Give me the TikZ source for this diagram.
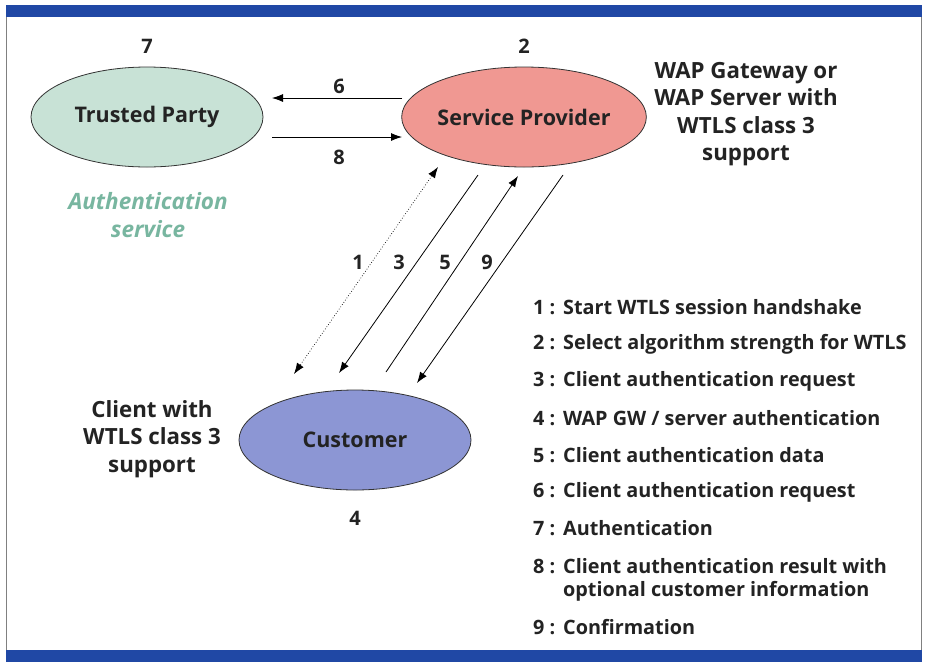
\documentclass[tikz,border=0pt]{standalone}
\usepackage{fontspec}
\setmainfont{Open Sans}
\usetikzlibrary{arrows.meta,shapes.geometric}
\definecolor{barblue}{RGB}{32,72,165}
\definecolor{txt}{RGB}{35,35,35}
\definecolor{tpfill}{RGB}{200,226,214}
\definecolor{spfill}{RGB}{240,152,146}
\definecolor{cufill}{RGB}{140,150,212}
\definecolor{authc}{RGB}{120,182,160}
\newcommand{\legnum}[1]{\makebox[30pt][l]{#1\hspace{5pt}:}}
\tikzset{
  ent/.style={ellipse,draw=black!80,line width=0.8pt,minimum width=232pt,minimum height=100pt,inner sep=0pt,font=\fontsize{21.5}{24}\selectfont\bfseries,text=txt},
  lbl/.style={font=\fontsize{20}{22}\selectfont\bfseries,text=txt,inner sep=0pt},
  side/.style={font=\fontsize{22.3}{27.5}\selectfont\bfseries,text=txt,align=center,inner sep=0pt},
  leg/.style={font=\fontsize{19.8}{25}\selectfont\bfseries,text=txt,anchor=west,inner sep=0pt},
  msg/.style={line width=0.8pt,-{Latex[length=11pt,width=8pt]}},
}
\begin{document}
\begin{tikzpicture}[x=1pt,y=-1pt]
\useasboundingbox (0,0) rectangle (928,662);
\fill[white] (0,0) rectangle (928,662);
% frame
\fill[barblue] (6,5) rectangle (922,17);
\fill[barblue] (6,650) rectangle (922,662);
\draw[black!50,line width=0.6pt] (6.5,17) -- (6.5,650) (921.5,17) -- (921.5,650);
% entities
\node[ent,fill=tpfill] (tp) at (147,117) {Trusted Party};
\node[ent,fill=spfill] (sp) at (524,117) {Service Provider};
\node[ent,fill=cufill] (cu) at (355,440) {Customer};
\node[lbl] (n7) at (147,46) {7};
\node[lbl] (n2) at (524,46) {2};
\node[lbl] (n4) at (355,518) {4};
\node[side] (spnote) at (746,114) {WAP Gateway or\\WAP Server with\\WTLS class 3\\support};
\node[side] (cunote) at (152,439) {Client with\\WTLS class 3\\support};
\node[side,text=authc,font=\fontsize{22.5}{28}\selectfont\bfseries\itshape] (auth) at (148,215) {Authentication\\service};
% horizontal message endpoints
\coordinate (a6s) at (402,98);  \coordinate (a6e) at (272,98);
\coordinate (a8s) at (272,137); \coordinate (a8e) at (402,137);
\draw[msg] (a6s) -- (a6e);
\draw[msg] (a8s) -- (a8e);
\node[lbl] (l6) at (339,86) {6};
\node[lbl] (l8) at (339,157) {8};
% diagonal message endpoints
\coordinate (m1a) at (438,167); \coordinate (m1b) at (294,374);
\coordinate (m3a) at (478,175); \coordinate (m3b) at (339,373);
\coordinate (m5a) at (386,372); \coordinate (m5b) at (518,176);
\coordinate (m9a) at (563,175); \coordinate (m9b) at (417,383);
\draw[line width=0.7pt,dotted,{Latex[length=11pt,width=8pt]}-{Latex[length=11pt,width=8pt]}] (m1a) -- (m1b);
\draw[msg] (m3a) -- (m3b);
\draw[msg] (m5a) -- (m5b);
\draw[msg] (m9a) -- (m9b);
\node[lbl] (l1) at (358,262) {1};
\node[lbl] (l3) at (399,262) {3};
\node[lbl] (l5) at (445,262) {5};
\node[lbl] (l9) at (487,262) {9};
% legend
\node[leg] (g1) at (533,307) {\legnum{1}Start WTLS session handshake};
\node[leg] (g2) at (533,344) {\legnum{2}Select algorithm strength for WTLS};
\node[leg] (g3) at (533,381) {\legnum{3}Client authentication request};
\node[leg] (g4) at (533,418) {\legnum{4}WAP GW / server authentication};
\node[leg] (g5) at (533,455) {\legnum{5}Client authentication data};
\node[leg] (g6) at (533,492) {\legnum{6}Client authentication request};
\node[leg] (g7) at (533,528) {\legnum{7}Authentication};
\node[leg] (g8) at (533,566) {\legnum{8}Client authentication result with};
\node[leg] (g8b) at (563,591) {optional customer information};
\node[leg] (g9) at (533,627) {\legnum{9}Confirmation};
\end{tikzpicture}
\end{document}
